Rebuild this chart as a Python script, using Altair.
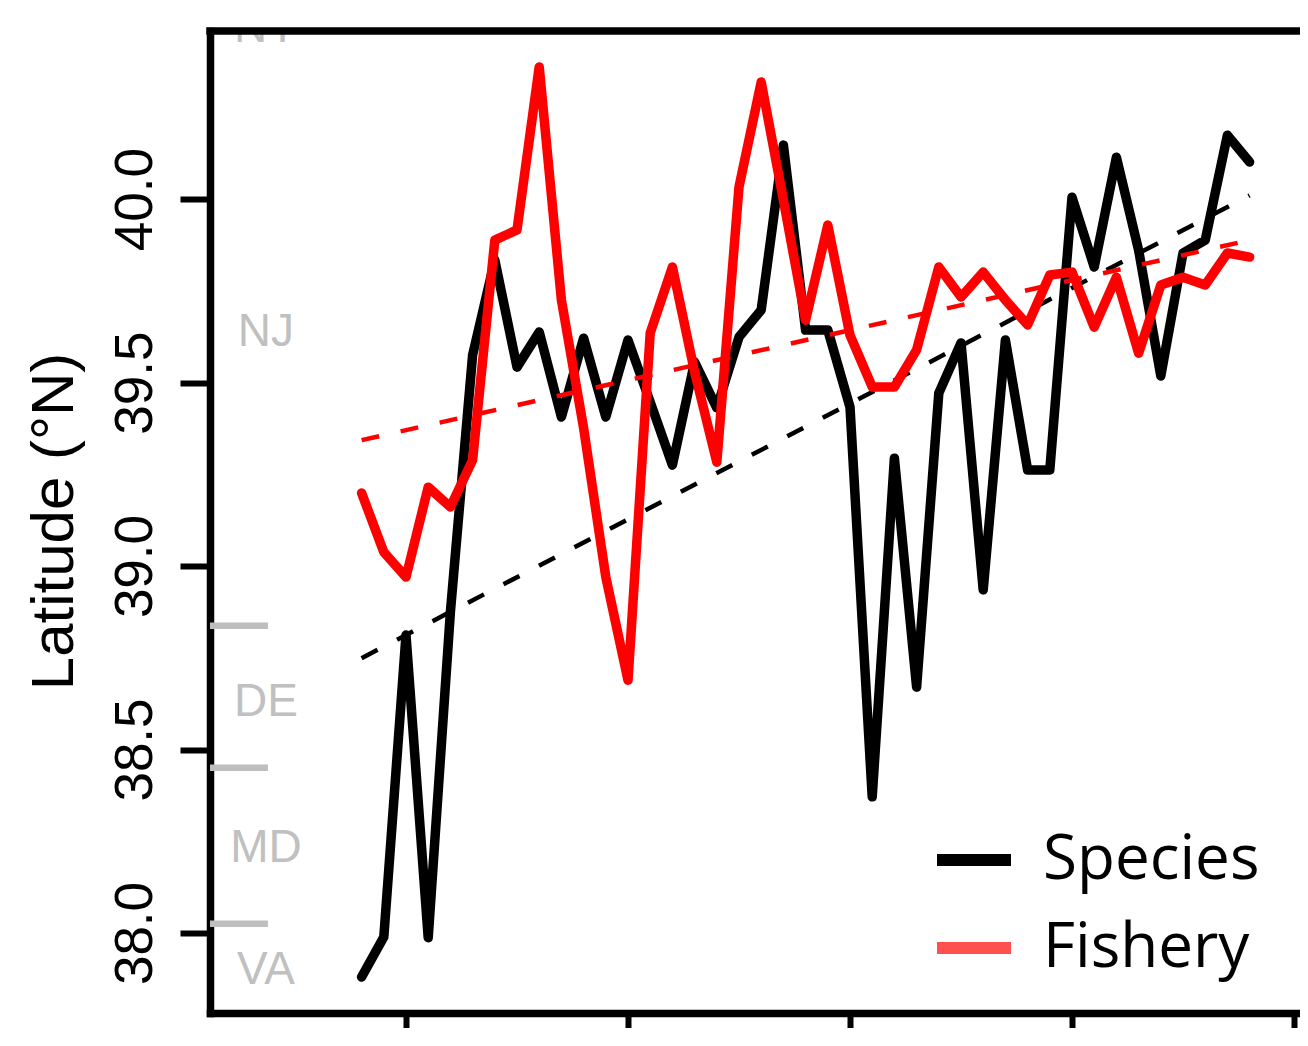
import altair as alt
import pandas as pd

# ---- data ----
years = list(range(1968, 2009))
species_lat = [37.880, 37.989, 38.812, 37.987, 38.875, 39.575, 39.834, 39.542, 39.638, 39.406,
               39.621, 39.406, 39.616, 39.447, 39.275, 39.556, 39.431, 39.624, 39.698, 40.147,
               39.643, 39.643, 39.433, 38.371, 39.294, 38.670, 39.471, 39.608, 38.935, 39.616,
               39.262, 39.262, 40.005, 39.815, 40.114, 39.861, 39.518, 39.853, 39.888, 40.174,
               40.101]
fishery_lat = [39.199, 39.038, 38.970, 39.215, 39.161, 39.289, 39.888, 39.916, 40.360, 39.725,
               39.376, 38.970, 38.689, 39.635, 39.815, 39.529, 39.283, 40.033, 40.319, 39.997,
               39.670, 39.929, 39.629, 39.488, 39.488, 39.589, 39.815, 39.733, 39.801, 39.725,
               39.657, 39.793, 39.801, 39.651, 39.787, 39.580, 39.766, 39.787, 39.766, 39.853,
               39.842]
trend_years = [1968, 2008]
species_trend = [38.749, 40.010]
fishery_trend = [39.343, 39.888]

state_names = ["NY", "NJ", "DE", "MD", "VA"]
state_label_lat = [40.466, 39.638, 38.630, 38.231, 37.899]
state_label_year = 1963.69
state_boundary_lat = [38.837, 38.450, 38.025]
boundary_year_start = 1961.171
boundary_year_end = 1963.78

legend_labels = ["Species", "Fishery"]
legend_colors = ["#000000", "#ff5050"]

y_ticks = [38.0, 38.5, 39.0, 39.5, 40.0]
x_ticks = [1970, 1980, 1990, 2000, 2010]
x_domain = [1961.171, 2010.27]
y_domain = [37.782, 40.458]

W, H = 1090, 982

# ---- tables ----
species_df = pd.DataFrame({"year": years, "lat": species_lat})
fishery_df = pd.DataFrame({"year": years, "lat": fishery_lat})
strend_df = pd.DataFrame({"year": trend_years, "lat": species_trend})
ftrend_df = pd.DataFrame({"year": trend_years, "lat": fishery_trend})
labels_df = pd.DataFrame({"name": state_names, "lat": state_label_lat,
                          "year": [state_label_year] * len(state_names)})
bounds_df = pd.DataFrame({"lat": state_boundary_lat,
                          "x0": [boundary_year_start] * 3, "x1": [boundary_year_end] * 3})
legend_df = pd.DataFrame({"series": legend_labels, "year": [1990, 1990], "lat": [39, 39]})

xscale = alt.Scale(domain=x_domain, nice=False, zero=False)
yscale = alt.Scale(domain=y_domain, nice=False, zero=False)

xaxis = alt.Axis(values=x_ticks, labels=False, title=None, grid=False,
                 tickSize=34, tickWidth=6, tickColor="black",
                 domainColor="black", domainWidth=7.5, domainCap="square")
yaxis = alt.Axis(values=y_ticks, format=".1f", title="Latitude (°N)", grid=False,
                 tickSize=30, tickWidth=6, tickColor="black",
                 domainColor="black", domainWidth=7.5, domainCap="square",
                 labelAngle=270, labelAlign="center", labelBaseline="middle",
                 labelPadding=45, labelFont="Liberation Sans", labelFontSize=53,
                 labelColor="black",
                 titleAngle=270, titleX=-138, titleY=490, titleAlign="center",
                 titleBaseline="alphabetic", titleFont="Liberation Sans",
                 titleFontSize=60, titleFontWeight="normal", titleColor="black")


def X(field="year"):
    return alt.X(f"{field}:Q", scale=xscale, axis=xaxis)


def Y(field="lat"):
    return alt.Y(f"{field}:Q", scale=yscale, axis=yaxis)


bounds = alt.Chart(bounds_df).mark_rule(color="#bebebe", strokeWidth=6.5).encode(
    x=X("x0"), x2="x1:Q", y=Y("lat"))

labels = alt.Chart(labels_df).mark_text(
    font="Liberation Sans", fontSize=46, color="#c0c0c0",
    align="center", baseline="middle", clip=True).encode(
    x=X(), y=Y(), text="name:N")

line_kw = dict(strokeWidth=9.5, strokeCap="round", strokeJoin="round")
species_line = alt.Chart(species_df).mark_line(color="black", **line_kw).encode(x=X(), y=Y())
fishery_line = alt.Chart(fishery_df).mark_line(color="#ff0000", **line_kw).encode(x=X(), y=Y())
dash_kw = dict(strokeWidth=4.5, strokeDash=[18, 22], strokeCap="butt")
species_trend_l = alt.Chart(strend_df).mark_line(color="black", **dash_kw).encode(x=X(), y=Y())
fishery_trend_l = alt.Chart(ftrend_df).mark_line(color="#ff0000", **dash_kw).encode(x=X(), y=Y())

legend_layer = alt.Chart(legend_df).transform_filter("false").mark_line().encode(
    x=X(), y=Y(),
    color=alt.Color("series:N",
                    scale=alt.Scale(domain=legend_labels, range=legend_colors),
                    legend=alt.Legend(title=None, orient="none", legendX=721, legendY=786,
                                      symbolType="stroke", symbolSize=5476,
                                      symbolStrokeWidth=12, symbolOpacity=1,
                                      labelFont="Open Sans", labelFontSize=62,
                                      labelColor="black", labelOffset=26,
                                      rowPadding=14, padding=0, labelLimit=400)))

top_rule = alt.Chart(pd.DataFrame({"k": [0]})).mark_rule(
    color="black", strokeWidth=7.5).encode(
    x=alt.value(-3.75), x2=alt.value(W + 20), y=alt.value(0))

chart = alt.layer(bounds, labels, species_line, species_trend_l,
                  fishery_line, fishery_trend_l, legend_layer, top_rule).properties(
    width=W, height=H,
    autosize=alt.AutoSizeParams(type="none"),
    padding={"left": 202, "top": 23, "right": 0, "bottom": 15},
).configure_view(stroke=None)

chart.save("out.html", embed_options={"renderer": "svg", "actions": False})
